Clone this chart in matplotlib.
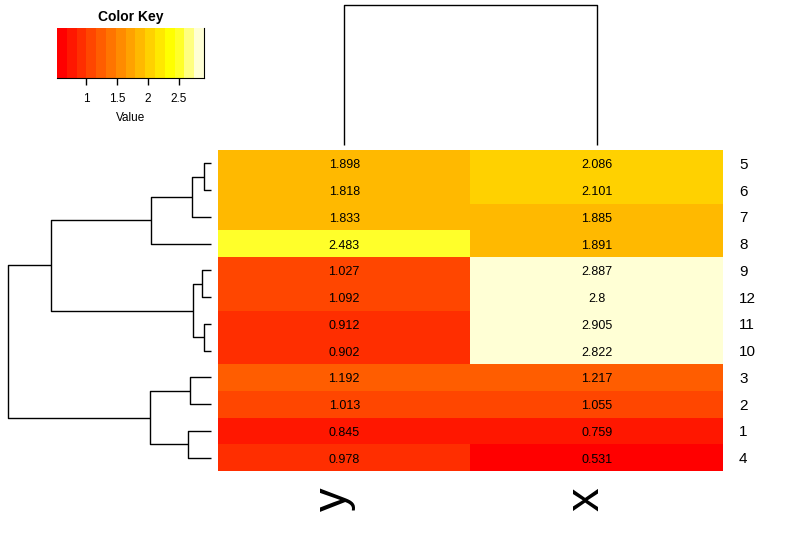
import numpy as np
import matplotlib
matplotlib.use("Agg")
import matplotlib.pyplot as plt
from matplotlib.colors import ListedColormap, BoundaryNorm, hsv_to_rgb

plt.rcParams['font.family'] = ['Liberation Sans', 'DejaVu Sans']

# data: rows 1..12, columns y and x
row_names = ['1', '2', '3', '4', '5', '6', '7', '8', '9', '10', '11', '12']
col_names = ['y', 'x']
y_vals = [0.845, 1.013, 1.192, 0.978, 1.898, 1.818, 1.833, 2.483, 1.027, 0.902, 0.912, 1.092]
x_vals = [0.759, 1.055, 1.217, 0.531, 2.086, 2.101, 1.885, 1.891, 2.887, 2.822, 2.905, 2.800]
# display order of rows, bottom to top (as R's heatmap.2 draws them)
row_order = ['4', '1', '2', '3', '10', '11', '12', '9', '8', '7', '6', '5']
col_order = ['y', 'x']
key_ticks = [1, 1.5, 2, 2.5]

W, H = 803, 550
mat = np.column_stack([y_vals, x_vals])


def heat_colors(n):
    """same as R heat.colors(n)"""
    j = n // 4
    i = n - j
    cols = [hsv_to_rgb((h, 1, 1)) for h in np.linspace(0, 1 / 6, i)]
    if j > 0:
        s = np.linspace(1 - 1 / (2 * j), 1 / (2 * j), j)
        cols += [hsv_to_rgb((1 / 6, si, 1)) for si in s]
    return cols


def complete_linkage(X):
    """returns list of merges (a, b, height); clusters are frozensets of indices"""
    D = np.sqrt(((X[:, None, :] - X[None, :, :]) ** 2).sum(-1))
    clusters = [frozenset([k]) for k in range(len(X))]
    merges = []
    while len(clusters) > 1:
        best = None
        for a in range(len(clusters)):
            for b in range(a + 1, len(clusters)):
                d = max(D[p, q] for p in clusters[a] for q in clusters[b])
                if best is None or d < best[0]:
                    best = (d, a, b)
        d, a, b = best
        ca, cb = clusters[a], clusters[b]
        merges.append((ca, cb, d))
        clusters = [c for k, c in enumerate(clusters) if k not in (a, b)] + [ca | cb]
    return merges


def draw_dendro(ax, merges, leaf_pos, horiz):
    pos = {frozenset([k]): p for k, p in leaf_pos.items()}
    hgt = {frozenset([k]): 0.0 for k in leaf_pos}
    for ca, cb, d in merges:
        p1, p2 = pos[ca], pos[cb]
        h1, h2 = hgt[ca], hgt[cb]
        hs = [h1, d, d, h2]
        ps = [p1, p1, p2, p2]
        if horiz:
            ax.plot(hs, ps, color='black', lw=1.0, solid_capstyle='butt', clip_on=False)
        else:
            ax.plot(ps, hs, color='black', lw=1.0, solid_capstyle='butt', clip_on=False)
        pos[ca | cb] = (p1 + p2) / 2
        hgt[ca | cb] = d
    return max(m[2] for m in merges)


def fig_axes(fig, x0, y0, x1, y1):
    return fig.add_axes([x0 / W, 1 - y1 / H, (x1 - x0) / W, (y1 - y0) / H])


colors = heat_colors(15)
breaks = np.linspace(mat.min(), mat.max(), 16)
cmap = ListedColormap(colors)
norm = BoundaryNorm(breaks, cmap.N)

fig = plt.figure(figsize=(W / 100, H / 100), dpi=100)

# heatmap
ax = fig_axes(fig, 218, 150, 723, 471)
rows_idx = [row_names.index(r) for r in row_order]
cols_idx = [col_names.index(c) for c in col_order]
sub = mat[np.ix_(rows_idx, cols_idx)]
ax.pcolormesh(np.arange(len(col_order) + 1), np.arange(len(row_order) + 1), sub,
              cmap=cmap, norm=norm)
for i in range(len(row_order)):
    for j in range(len(col_order)):
        ax.annotate(f'{sub[i, j]:g}', xy=(j + 0.5, i + 0.5), xytext=(0, -1.5),
                    textcoords='offset points', ha='center', va='center', fontsize=9)
    ax.annotate(row_order[i], xy=(len(col_order), i + 0.5), xytext=(11.5, -1),
                textcoords='offset points', ha='left', va='center', fontsize=11)
for j, c in enumerate(col_order):
    ax.annotate(c, xy=(j + 0.5, 0), xytext=(1.5, -11.5), textcoords='offset points',
                rotation=90, rotation_mode='anchor', ha='right', va='baseline', fontsize=34)
ax.set_xlim(0, len(col_order))
ax.set_ylim(0, len(row_order))
ax.axis('off')

# row dendrogram
axr = fig_axes(fig, 8, 150, 211, 471)
row_merges = complete_linkage(mat)
hmax = draw_dendro(axr, row_merges, {rows_idx[i]: i + 0.5 for i in range(len(rows_idx))}, True)
axr.set_xlim(hmax, 0)
axr.set_ylim(0, len(row_order))
axr.axis('off')

# column dendrogram
axc = fig_axes(fig, 218, 5, 723, 145)
col_merges = complete_linkage(mat.T)
cmax = draw_dendro(axc, col_merges, {cols_idx[j]: j + 0.5 for j in range(len(cols_idx))}, False)
axc.set_xlim(0, len(col_order))
axc.set_ylim(0, cmax)
axc.axis('off')

# colour key
axk = fig_axes(fig, 57, 28, 204, 78)
axk.pcolormesh(breaks, [0, 1], breaks[:-1][None, :] + 1e-9, cmap=cmap, norm=norm)
axk.set_xlim(breaks[0], breaks[-1])
axk.set_ylim(0, 1)
axk.set_yticks([])
axk.set_xticks(key_ticks)
axk.set_xticklabels([f'{t:g}' for t in key_ticks], fontsize=8.5)
axk.tick_params(axis='x', length=5, width=1, pad=6)
axk.spines['top'].set_visible(False)
axk.spines['left'].set_visible(False)
axk.set_xlabel('Value', fontsize=8.5, labelpad=4.5)
axk.set_title('Color Key', fontsize=10, fontweight='bold', pad=5)

fig.savefig('out.png', dpi=100)
